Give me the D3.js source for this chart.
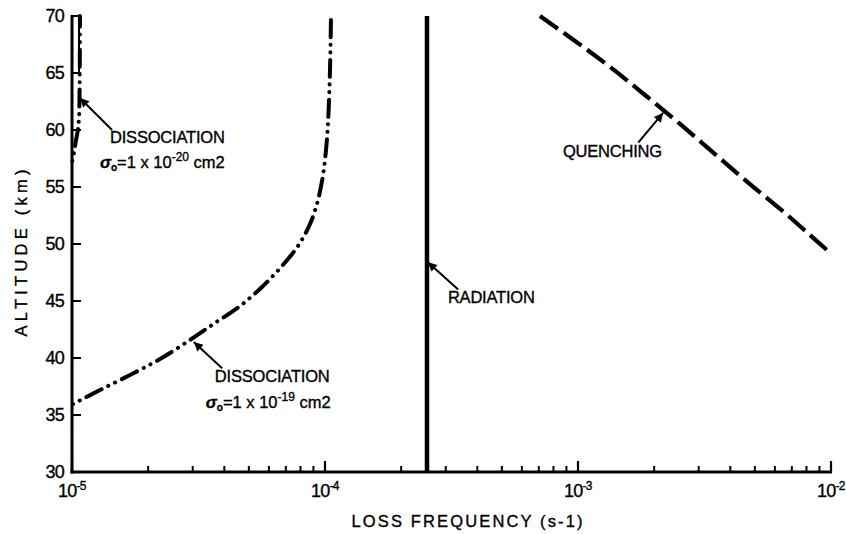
<!DOCTYPE html>
<html><head><meta charset="utf-8">
<script src="https://cdn.jsdelivr.net/npm/d3@7"></script>
<style>
html,body{margin:0;padding:0;background:#fff;}
svg{display:block;font-family:"Liberation Sans",Arial,Helvetica,sans-serif;}
text{stroke:#000;stroke-width:0.35px;fill:#000;}
</style></head>
<body>
<svg id="chart" width="846" height="534"></svg>
<script>
// ---- data ----
const yTicks = [30, 35, 40, 45, 50, 55, 60, 65, 70];
const xMajorExp = [-5, -4, -3, -2];

// Dissociation, sigma0 = 1e-19 cm2
const altDiss19  = [35.96, 37.19, 38.51, 39.91, 41.58, 43.07, 44.56, 46.23, 48.07, 49.82, 51.75, 53.86, 56.05, 58.25, 60.61, 65.26, 70.0];
const freqDiss19 = [1.009e-5, 1.29e-5, 1.695e-5, 2.227e-5, 2.927e-5, 3.674e-5, 4.613e-5, 5.636e-5, 6.761e-5, 7.818e-5, 8.724e-5, 9.381e-5, 9.82e-5, 1.0092e-4, 1.0278e-4, 1.0466e-4, 1.0561e-4];

// Dissociation, sigma0 = 1e-20 cm2
const altDiss20  = [57.3, 58.0, 59.0, 60.0, 61.0, 62.5, 65.0, 70.0];
const freqDiss20 = [1.003e-5, 1.018e-5, 1.035e-5, 1.055e-5, 1.065e-5, 1.07e-5, 1.073e-5, 1.075e-5];
const boxAlt = [65, 70];
const boxFreq = 1.066e-5;

// Radiation
const altRad  = [30, 70];
const freqRad = [2.53e-4, 2.53e-4];

// Quenching
const altQ  = [70.0, 67.81, 65.53, 63.07, 60.53, 57.89, 55.26, 52.72, 50.79, 49.39];
const freqQ = [7.076e-4, 9.73e-4, 1.338e-3, 1.84e-3, 2.53e-3, 3.479e-3, 4.782e-3, 6.58e-3, 8.26e-3, 9.73e-3];

// annotation arrows: [tailFreq, tailAlt, headFreq, headAlt]
const arrows = [
  [1.44e-5, 60.0, 1.075e-5, 62.8],
  [3.92e-5, 39.1, 3.03e-5, 41.4],
  [3.36e-4, 46.0, 2.55e-4, 48.4],
  [1.73e-3, 58.9, 2.17e-3, 61.5]
];

// ---- layout ----
const svg = d3.select("#chart");
const x = d3.scaleLog().domain([1e-5, 1e-2]).range([72, 831]);
const y = d3.scaleLinear().domain([30, 70]).range([472, 16]);

svg.append("defs").append("marker")
  .attr("id", "ah").attr("viewBox", "0 0 10 10").attr("refX", 10).attr("refY", 5)
  .attr("markerWidth", 11).attr("markerHeight", 9).attr("markerUnits", "userSpaceOnUse")
  .attr("orient", "auto")
  .append("path").attr("d", "M0,0 L10,5 L0,10 Z").attr("fill", "#000");

// axes
const xMinor = [];
for (let e = -5; e < -2; e++) for (let m = 2; m <= 9; m++) xMinor.push(m * Math.pow(10, e));

const g = svg.append("g");
g.selectAll(".xmin").data(xMinor).join("line")
  .attr("x1", d => x(d)).attr("x2", d => x(d))
  .attr("y1", y(30)).attr("y2", y(30) - 6)
  .attr("stroke", "#000").attr("stroke-width", 2);
g.selectAll(".xmaj").data(xMajorExp).join("line")
  .attr("x1", d => x(Math.pow(10, d))).attr("x2", d => x(Math.pow(10, d)))
  .attr("y1", y(30)).attr("y2", y(30) - 11)
  .attr("stroke", "#000").attr("stroke-width", 2.2);
g.selectAll(".yt").data(yTicks).join("line")
  .attr("x1", x(1e-5)).attr("x2", x(1e-5) + 9)
  .attr("y1", d => y(d)).attr("y2", d => y(d))
  .attr("stroke", "#000").attr("stroke-width", 2);
g.append("line").attr("x1", x(1e-5)).attr("x2", x(1e-5)).attr("y1", y(70) - 1).attr("y2", y(30) + 1.5)
  .attr("stroke", "#000").attr("stroke-width", 3);
g.append("line").attr("x1", x(1e-5) - 1.5).attr("x2", x(1e-2) + 1).attr("y1", y(30)).attr("y2", y(30))
  .attr("stroke", "#000").attr("stroke-width", 3);

g.selectAll(".yl").data(yTicks).join("text")
  .attr("x", 64).attr("y", d => y(d)).attr("dy", "0.35em")
  .attr("text-anchor", "end").attr("font-size", 18).attr("letter-spacing", -0.8)
  .text(d => d);

const xl = g.selectAll(".xl").data(xMajorExp).join("text")
  .attr("x", d => x(Math.pow(10, d))).attr("y", 497)
  .attr("text-anchor", "middle").attr("font-size", 18).attr("letter-spacing", -0.8);
xl.append("tspan").text("10");
xl.append("tspan").attr("font-size", 12).attr("dy", -7).attr("letter-spacing", -0.5).text(d => d);

svg.append("text").attr("x", 467).attr("y", 527).attr("text-anchor", "middle")
  .attr("font-size", 16.5).attr("textLength", 231).attr("lengthAdjust", "spacing")
  .text("LOSS FREQUENCY (s-1)");
svg.append("text").attr("transform", "translate(27,253) rotate(-90)").attr("text-anchor", "middle")
  .attr("font-size", 16.5).attr("textLength", 167).attr("lengthAdjust", "spacing")
  .text("ALTITUDE (km)");

// curves
const line = d3.line().x(d => x(d[0])).y(d => y(d[1])).curve(d3.curveCatmullRom);
const zip = (f, a) => f.map((v, i) => [v, a[i]]);

svg.append("path").datum(zip(freqDiss19, altDiss19)).attr("d", line)
  .attr("fill", "none").attr("stroke", "#000").attr("stroke-width", 4)
  .attr("stroke-linecap", "round").attr("stroke-dasharray", "0.1 7.5 0.1 7.5 17 7.5");

svg.append("path").datum(zip(freqDiss20, altDiss20)).attr("d", line)
  .attr("fill", "none").attr("stroke", "#000").attr("stroke-width", 4)
  .attr("stroke-linecap", "round").attr("stroke-dasharray", "0.1 7.5 0.1 7.5 17 7.5");

svg.append("line").attr("x1", x(boxFreq)).attr("x2", x(boxFreq))
  .attr("y1", y(boxAlt[0])).attr("y2", y(boxAlt[1]))
  .attr("stroke", "#000").attr("stroke-width", 2);
svg.append("line").attr("x1", x(1e-5)).attr("x2", x(boxFreq))
  .attr("y1", y(boxAlt[1])).attr("y2", y(boxAlt[1]))
  .attr("stroke", "#000").attr("stroke-width", 2);

svg.append("path").datum(zip(freqRad, altRad)).attr("d", d3.line().x(d => x(d[0])).y(d => y(d[1])))
  .attr("fill", "none").attr("stroke", "#000").attr("stroke-width", 4.5);

svg.append("path").datum(zip(freqQ, altQ)).attr("d", line)
  .attr("fill", "none").attr("stroke", "#000").attr("stroke-width", 4.2)
  .attr("stroke-dasharray", "22 7");

svg.selectAll(".arr").data(arrows).join("line")
  .attr("x1", d => x(d[0])).attr("y1", d => y(d[1]))
  .attr("x2", d => x(d[2])).attr("y2", d => y(d[3]))
  .attr("stroke", "#000").attr("stroke-width", 2).attr("marker-end", "url(#ah)");

const fs = 16.5;
function label(f, a, txt) {
  return svg.append("text").attr("x", x(f)).attr("y", y(a)).attr("font-size", fs).attr("letter-spacing", -0.2).text(txt);
}
function sigmaLine(f, a, dx, dy, exp) {
  const t = svg.append("text").attr("x", x(f) + dx).attr("y", y(a) + dy).attr("font-size", fs);
  t.append("tspan").attr("font-style", "italic").attr("font-weight", "bold").text("σ");
  t.append("tspan").attr("font-size", 10).attr("font-weight", "bold").attr("dy", 3).text("o");
  t.append("tspan").attr("dy", -3).text("=1 x 10");
  t.append("tspan").attr("font-size", 12).attr("dy", -7).text(exp);
  t.append("tspan").attr("dy", 7).text(" cm2");
}
label(1.413e-5, 58.86, "DISSOCIATION");
sigmaLine(1.413e-5, 58.86, -10, 25, "-20");
label(3.67e-5, 37.89, "DISSOCIATION");
sigmaLine(3.67e-5, 37.89, -9, 26, "-19");
label(3.06e-4, 44.82, "RADIATION");
label(8.72e-4, 57.63, "QUENCHING");
</script>
</body></html>
